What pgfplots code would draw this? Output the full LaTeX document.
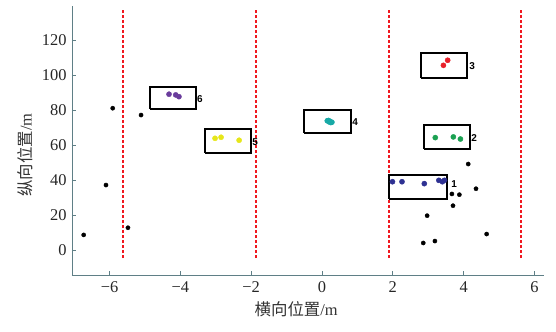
\documentclass[border=0pt]{standalone}
\usepackage{pgfplots}
\pgfplotsset{compat=1.18}
\usepackage{fontspec}
\setmainfont{Liberation Serif}
\newfontfamily\cjk{Noto Sans CJK SC}
\newfontfamily\lab{Liberation Sans}
\definecolor{axgray}{HTML}{5F7F86}
\definecolor{cpurple}{HTML}{6A3C9C}
\definecolor{cyellow}{HTML}{E6E61A}
\definecolor{cred}{HTML}{E8202A}
\definecolor{ccyan}{HTML}{17A9A6}
\definecolor{cgreen}{HTML}{1BA152}
\definecolor{cblue}{HTML}{2E3192}
\definecolor{lane}{HTML}{F01820}
\begin{document}
\begin{tikzpicture}
\path[use as bounding box] (-72bp,-57bp) rectangle (484bp,275bp);
\begin{axis}[
  at={(0,0)}, anchor=south west,
  scale only axis, width=472bp, height=269bp,
  xmin=-7.06, xmax=6.27, ymin=-14.3, ymax=139.4,
  axis x line=bottom, axis y line=left,
  axis line style={-, axgray, line width=0.9pt},
  tick style={axgray, line width=0.7pt},
  tick align=inside, major tick length=4bp,
  xtick={-6,-4,-2,0,2,4,6},
  xticklabels={−6,−4,−2,0,2,4,6},
  ytick={0,20,40,60,80,100,120},
  yticklabels={0,20,40,60,80,100,120},
  ticklabel style={font=\fontsize{16.5}{18}\selectfont, text=black!85},
  xticklabel style={yshift=-3bp},
  yticklabel style={xshift=-2bp},
  xlabel={{\cjk 横向位置}/m},
  ylabel={{\cjk 纵向位置}/m},
  label style={font=\fontsize{16.5}{18}\selectfont, text=black!80},
  xlabel style={at={(ticklabel cs:0.475)}, anchor=north, yshift=-2bp},
  ylabel style={at={(ticklabel cs:0.446)}, anchor=south, yshift=2bp},
  clip=false,
]
% lane lines
\addplot[lane, line width=2bp, dash pattern=on 3bp off 2bp] coordinates {(-5.620,-4.7) (-5.620,137)};
\addplot[lane, line width=2bp, dash pattern=on 3bp off 2bp] coordinates {(-1.864,-4.7) (-1.864,137)};
\addplot[lane, line width=2bp, dash pattern=on 3bp off 2bp] coordinates {(1.892,-4.7) (1.892,137)};
\addplot[lane, line width=2bp, dash pattern=on 3bp off 2bp] coordinates {(5.620,-4.7) (5.620,137)};
% black points
\addplot[only marks, mark=*, mark size=2.1pt, black] coordinates {
(-6.73,8.6) (-6.10,37.1) (-5.91,81) (-5.48,12.7) (-5.11,77.1)
(4.13,49.1) (4.35,35.0) (3.67,32.0) (3.88,31.6) (3.70,25.3) (2.97,19.6)
(4.65,9.1) (2.86,4.0) (3.19,5.1)};
% boxes
\addplot[black, line width=2bp] coordinates {(1.892,29.12) (3.530,29.12) (3.530,42.84) (1.892,42.84) (1.892,29.12)};
\addplot[black, line width=2bp] coordinates {(2.881,57.69) (4.180,57.69) (4.180,71.40) (2.881,71.40) (2.881,57.69)};
\addplot[black, line width=2bp] coordinates {(2.796,98.26) (4.095,98.26) (4.095,112.54) (2.796,112.54) (2.796,98.26)};
\addplot[black, line width=2bp] coordinates {(-0.508,66.83) (0.819,66.83) (0.819,79.97) (-0.508,79.97) (-0.508,66.83)};
\addplot[black, line width=2bp] coordinates {(-3.304,55.41) (-2.005,55.41) (-2.005,69.12) (-3.304,69.12) (-3.304,55.41)};
\addplot[black, line width=2bp] coordinates {(-4.857,80.55) (-3.558,80.55) (-3.558,93.12) (-4.857,93.12) (-4.857,80.55)};
% clusters
\addplot[only marks, mark=*, mark size=2.6pt, cblue, mark options={draw=cblue,fill=cblue}] coordinates {
(1.99,39.0) (2.26,39.0) (2.89,37.9) (3.30,39.8) (3.40,39.0) (3.46,39.8)};
\addplot[only marks, mark=*, mark size=2.6pt, cgreen, mark options={draw=cgreen,fill=cgreen}] coordinates {
(3.20,64.2) (3.71,64.6) (3.91,63.4)};
\addplot[only marks, mark=*, mark size=2.6pt, cred, mark options={draw=cred,fill=cred}] coordinates {
(3.43,105.5) (3.55,108.4)};
\addplot[only marks, mark=*, mark size=2.6pt, ccyan, mark options={draw=ccyan,fill=ccyan}] coordinates {
(0.15,73.8) (0.20,73.2) (0.25,72.8) (0.22,73.6) (0.18,74.0) (0.28,73.0)};
\addplot[only marks, mark=*, mark size=2.6pt, cyellow, mark options={draw=cyellow,fill=cyellow}] coordinates {
(-3.02,63.8) (-2.85,64.4) (-2.34,62.7)};
\addplot[only marks, mark=*, mark size=2.6pt, cpurple, mark options={draw=cpurple,fill=cpurple}] coordinates {
(-4.32,89) (-4.13,88.6) (-4.04,87.6)};
% labels
\node[font=\lab\bfseries\fontsize{10}{12}\selectfont, inner sep=0pt] at (axis cs:3.73,37.5) {1};
\node[font=\lab\bfseries\fontsize{10}{12}\selectfont, inner sep=0pt] at (axis cs:4.30,64.2) {2};
\node[font=\lab\bfseries\fontsize{10}{12}\selectfont, inner sep=0pt] at (axis cs:4.24,105.1) {3};
\node[font=\lab\bfseries\fontsize{10}{12}\selectfont, inner sep=0pt] at (axis cs:0.94,72.8) {4};
\node[font=\lab\bfseries\fontsize{10}{12}\selectfont, inner sep=0pt] at (axis cs:-1.89,61.9) {5};
\node[font=\lab\bfseries\fontsize{10}{12}\selectfont, inner sep=0pt] at (axis cs:-3.45,86.3) {6};
\end{axis}
\end{tikzpicture}
\end{document}
